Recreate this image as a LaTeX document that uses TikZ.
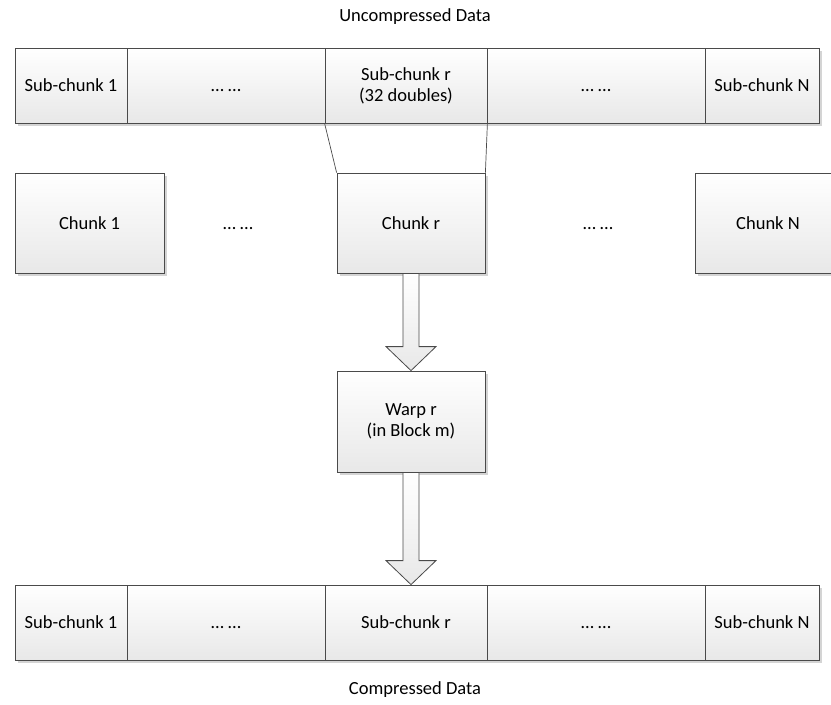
\documentclass[tikz,border=0pt]{standalone}
\usepackage{fontspec}
\setmainfont{Carlito}
\usetikzlibrary{shadows,calc}
\definecolor{edge}{HTML}{4A4A4A}
\definecolor{shadowgray}{HTML}{D4D4D4}
\newcommand{\skipdots}{\vphantom{Sh}…\ …}
\tikzset{
  txt/.style={font=\fontsize{18.5}{21}\selectfont},
  cell/.style={txt, draw=edge, line width=0.8pt, top color=white, bottom color=black!9,
    minimum height=75pt, inner sep=0pt, align=center,
    drop shadow={shadow xshift=2.5pt, shadow yshift=-2.5pt, fill=shadowgray, opacity=1}},
  box/.style={cell, minimum height=100pt},
  blockarrow/.style={draw=edge, line width=0.8pt, top color=white, bottom color=black!9},
  link/.style={draw=edge, line width=0.7pt},
  caption/.style={txt, inner sep=0pt},
  gap/.style={txt, inner sep=0pt}
}
\begin{document}
\begin{tikzpicture}[x=1pt,y=-1pt]
\useasboundingbox (0,0) rectangle (831,705);
\clip (0,0) rectangle (831,705);

% uncompressed sub-chunks
\node[caption] (utitle) at (415,17) {Uncompressed Data};
\node[cell, minimum width=112pt] (t1) at (71,85.5) {Sub-chunk 1};
\node[cell, minimum width=198pt] (t2) at (226,85.5) {\skipdots};
\node[cell, minimum width=162pt] (t3) at (406,85.5) {Sub-chunk r\\(32 doubles)};
\node[cell, minimum width=218pt] (t4) at (596,85.5) {\skipdots};
\node[cell, minimum width=114pt] (t5) at (762,85.5) {Sub-chunk N};

% chunks
\node[box, minimum width=149pt] (c1) at (89.5,223) {Chunk 1};
\node[gap] (g1) at (238,223) {\skipdots};
\node[box, minimum width=148pt] (cr) at (411,223) {Chunk r};
\node[gap] (g2) at (598,223) {\skipdots};
\node[box, minimum width=146pt] (cN) at (768,223) {Chunk N};

% sub-chunk r maps onto chunk r
\draw[link] (t3.south west) -- (cr.north west);
\draw[link] (t3.south east) -- (cr.north east);

% warp
\node[box, minimum width=148pt, minimum height=101pt] (w) at (411,421.5) {Warp r\\(in Block m)};

% compressed sub-chunks
\node[cell, minimum width=112pt] (b1) at (71,622.5) {Sub-chunk 1};
\node[cell, minimum width=198pt] (b2) at (226,622.5) {\skipdots};
\node[cell, minimum width=162pt] (b3) at (406,622.5) {Sub-chunk r};
\node[cell, minimum width=218pt] (b4) at (596,622.5) {\skipdots};
\node[cell, minimum width=114pt] (b5) at (762,622.5) {Sub-chunk N};
\node[caption] (btitle) at (415,690) {Compressed Data};

% block arrows
\path[blockarrow]
  ($(cr.south)+(-8,0)$) -- ($(cr.south)+(8,0)$) -- ($(w.north)+(8,-24)$)
  -- ($(w.north)+(25,-24)$) -- (w.north) -- ($(w.north)+(-25,-24)$)
  -- ($(w.north)+(-8,-24)$) -- cycle;
\path[blockarrow]
  ($(w.south)+(-8,0)$) -- ($(w.south)+(8,0)$) -- ($(b3.north)+(13,-24)$)
  -- ($(b3.north)+(30,-24)$) -- ($(b3.north)+(5,0)$) -- ($(b3.north)+(-20,-24)$)
  -- ($(b3.north)+(-3,-24)$) -- cycle;
\end{tikzpicture}
\end{document}
